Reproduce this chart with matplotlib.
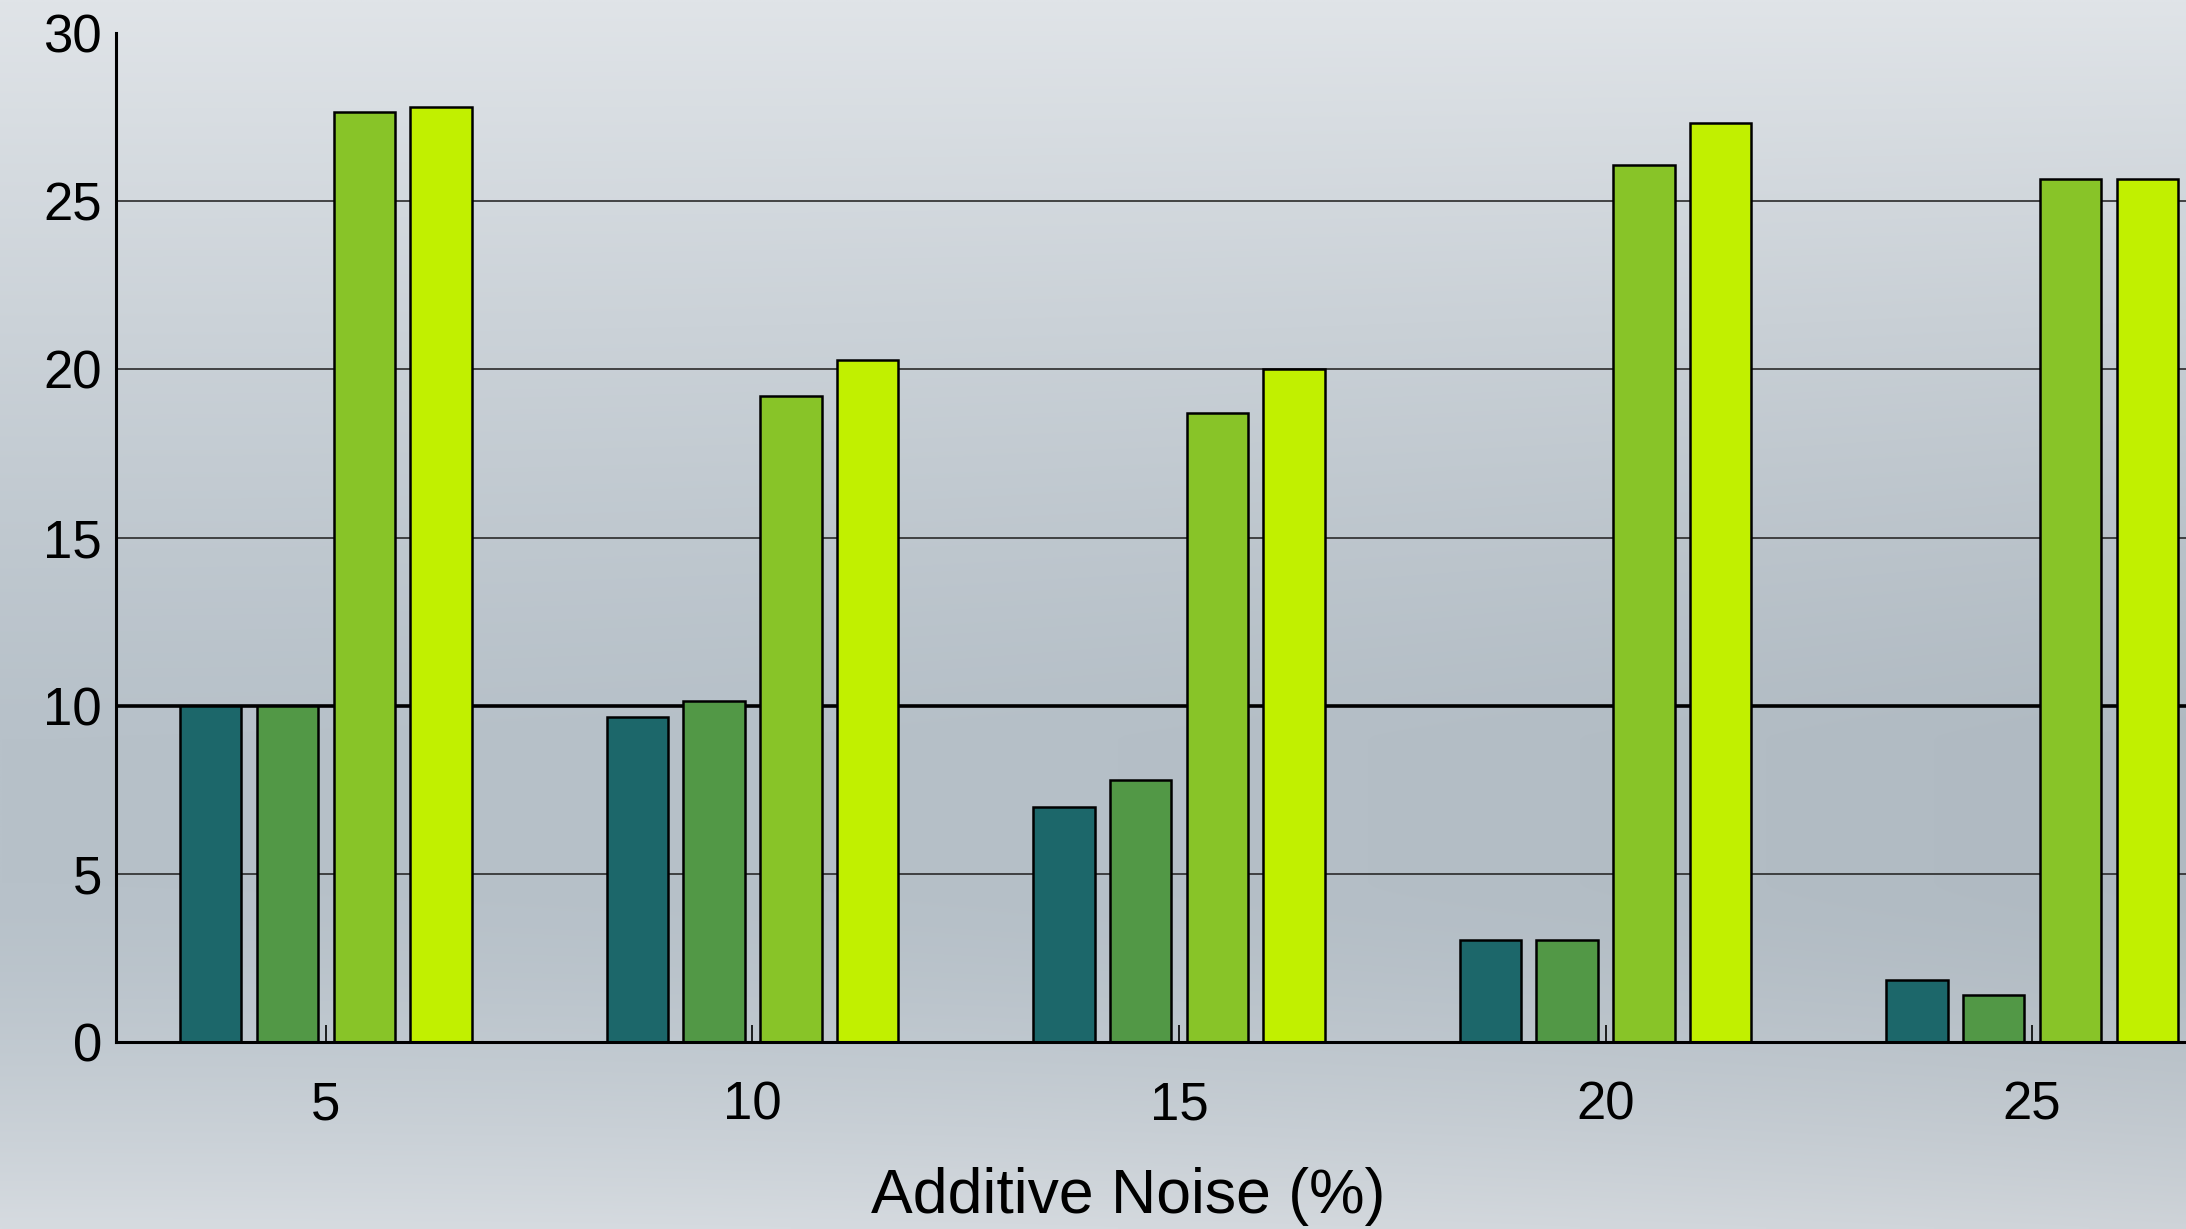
import numpy as np
import matplotlib
matplotlib.use('Agg')
import matplotlib.pyplot as plt

plt.rcParams['font.family'] = ['Liberation Sans', 'DejaVu Sans']

# noise levels and the four series
noise = [5, 10, 15, 20, 25]
series_a = [10.0, 9.65, 7.0, 3.03, 1.83]
series_b = [10.0, 10.15, 7.8, 3.03, 1.41]
series_c = [27.65, 19.2, 18.7, 26.07, 25.65]
series_d = [27.8, 20.27, 20.0, 27.32, 25.65]
colours = ['#1c676a', '#529846', '#88c428', '#c1f000']

fig = plt.figure(figsize=(21.86, 12.29), dpi=100)

# gradient backdrop
bg = fig.add_axes([0, 0, 1, 1], zorder=-1)
yy, xx = np.mgrid[0:1:300j, 0:1:500j]
top = np.array([224, 228, 232]) / 255.
mid = np.array([183, 193, 201]) / 255.
bot = np.array([214, 219, 224]) / 255.
t = yy  # 0 at top
w_top = np.clip(1 - t / 0.6, 0, 1) ** 1.2
w_bot = np.clip((t - 0.72) / 0.28, 0, 1) ** 1.5
w_mid = 1 - w_top - w_bot
img = (w_top[..., None] * top + w_mid[..., None] * mid + w_bot[..., None] * bot)
# a little darker toward the right
img = img - 0.03 * (xx[..., None] ** 2) * (1 - w_top[..., None])
bg.imshow(np.clip(img, 0, 1), aspect='auto', extent=[0, 1, 0, 1], interpolation='bilinear')
bg.axis('off')

ax = fig.add_axes([116 / 2186, 1 - 1042 / 1229, 2126 / 2186, (1042 - 33) / 1229])
ax.patch.set_alpha(0)

width = 0.72
pitch = 0.9
offsets = [-1.5 * pitch, -0.5 * pitch, 0.5 * pitch, 1.5 * pitch]
x = np.array(noise, dtype=float)
for vals, off, c in zip([series_a, series_b, series_c, series_d], offsets, colours):
    ax.bar(x + off, vals, width=width, color=c, edgecolor='black', linewidth=1.8, zorder=3)

for g in [5, 15, 20, 25]:
    ax.axhline(g, color='#2a2a2a', linewidth=1.2, zorder=1)
ax.axhline(10, color='black', linewidth=2.6, zorder=2)

ax.set_xlim(2.54, 27.46)
ax.set_ylim(0, 30)
ax.set_xticks(noise)
ax.set_yticks([0, 5, 10, 15, 20, 25, 30])
ax.tick_params(axis='x', direction='in', length=12, width=1.2, pad=28, labelsize=38)
ax.tick_params(axis='y', length=0, pad=10, labelsize=38)

for s in ['top', 'right']:
    ax.spines[s].set_visible(False)
for s in ['left', 'bottom']:
    ax.spines[s].set_linewidth(2.2)
    ax.spines[s].set_zorder(4)

fig.text(1128 / 2186, 1 - 1196 / 1229, 'Additive Noise (%)', fontsize=45,
         ha='center', va='center')

fig.savefig('out.png', dpi=100)
